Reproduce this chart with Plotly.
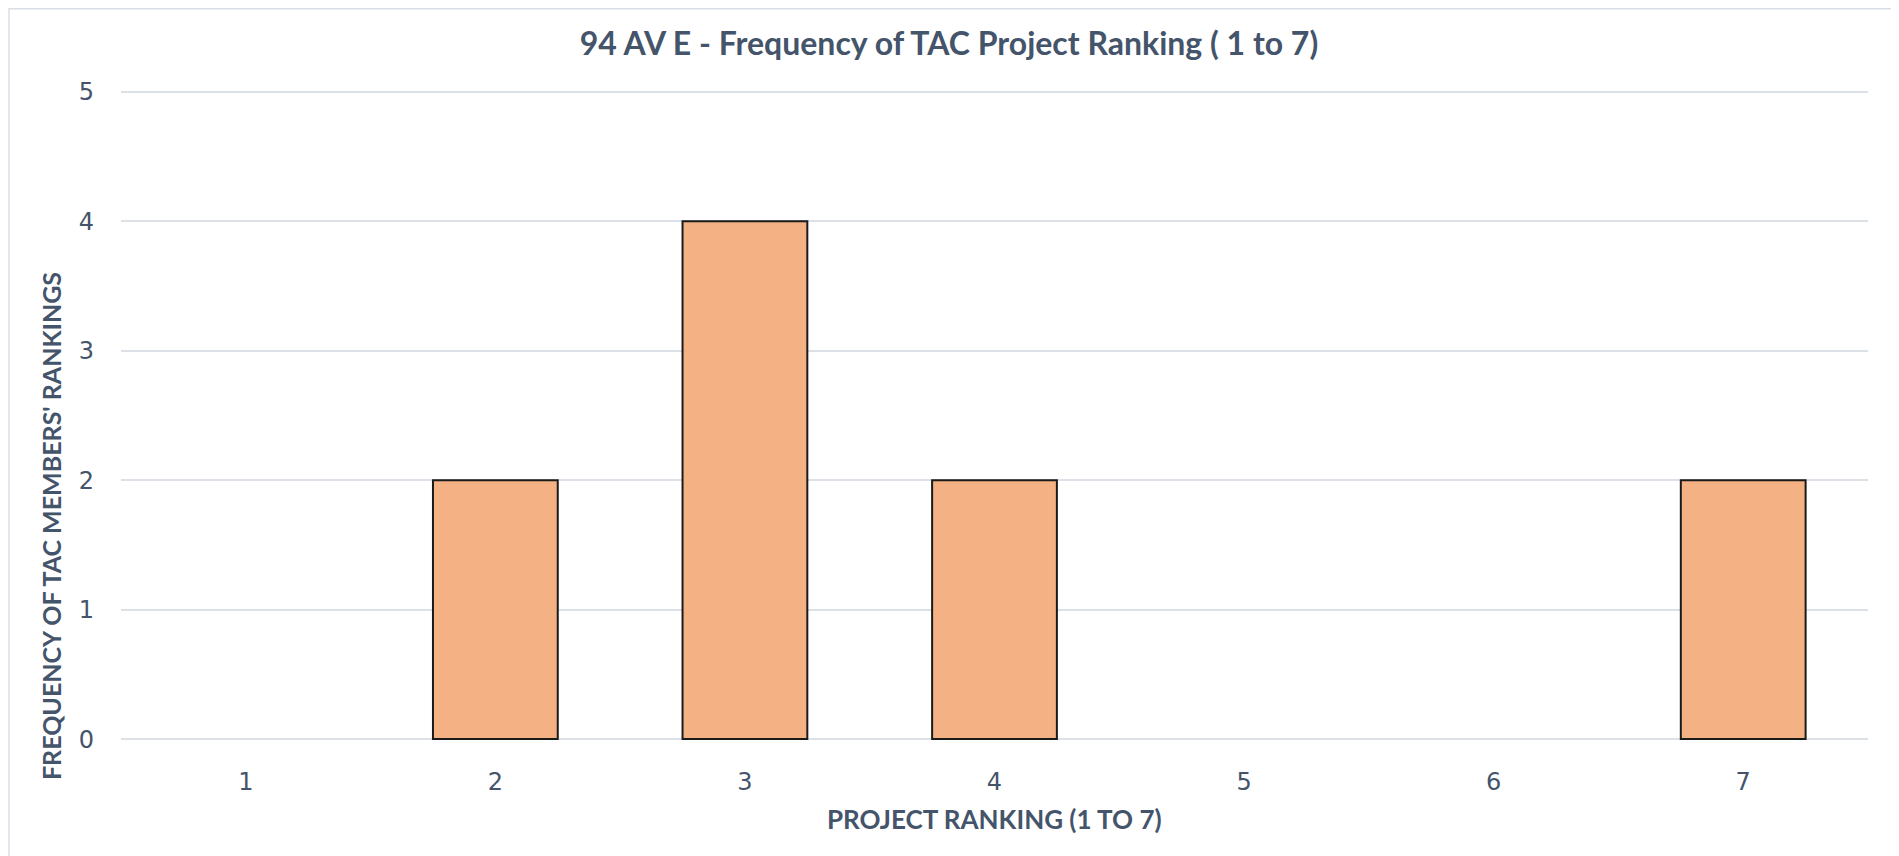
import plotly.graph_objects as go

# data
rankings = ['1', '2', '3', '4', '5', '6', '7']
frequency = [0, 2, 4, 2, 0, 0, 2]
y_ticks = [0, 1, 2, 3, 4, 5]

title_text = '94 AV E - Frequency of TAC Project Ranking ( 1 to 7)'
x_title = 'PROJECT RANKING (1 TO 7)'
y_title = "FREQUENCY OF TAC MEMBERS' RANKINGS"

text_color = '#44546A'
grid_color = '#DCE1E8'
label_font = 'Lato, sans-serif'
tick_font = 'DejaVu Sans, sans-serif'

# plot area in figure pixels (the page body adds an 8px offset)
W, H = 1899, 856
left, right, y5, y0 = 113, 1860, 84, 731
# small padding on the value range so the 0 and 5 gridlines get drawn
pad = 0.03
unit = (y0 - y5) / 5
top, bottom = y5 - pad * unit, y0 + pad * unit
pw, ph = right - left, bottom - top


def px(x):
    return (x - left) / pw


def py(y):
    return (bottom - y) / ph


# empty categories get no outline
outline = [2 if v > 0 else 0 for v in frequency]

fig = go.Figure()

fig.add_trace(go.Bar(
    x=rankings,
    y=frequency,
    marker=dict(color='#F4B183', line=dict(color='#1A1A1A', width=outline)),
    hoverinfo='x+y'
))

fig.update_layout(
    width=W,
    height=H,
    margin=dict(l=left, r=W - right, t=top, b=H - bottom),
    paper_bgcolor='white',
    plot_bgcolor='white',
    showlegend=False,
    bargap=0.5,
    title=dict(
        text='<b>' + title_text + '</b>',
        x=941 / W, xref='container', xanchor='center',
        y=1 - 36 / H, yref='container', yanchor='middle',
        font=dict(family=label_font, size=32, color=text_color)
    ),
    xaxis=dict(
        type='category',
        showgrid=False,
        showline=False,
        ticks='',
        ticklabelstandoff=22,
        tickfont=dict(family=tick_font, size=24, color=text_color)
    ),
    yaxis=dict(
        range=[-pad, 5 + pad],
        tickvals=y_ticks,
        showgrid=True,
        gridcolor=grid_color,
        gridwidth=1.5,
        zeroline=False,
        showline=False,
        ticks='',
        ticklabelstandoff=26,
        tickfont=dict(family=tick_font, size=24, color=text_color)
    ),
    annotations=[
        dict(
            text='<b>' + x_title + '</b>',
            xref='paper', yref='paper', x=0.5, y=py(811),
            xanchor='center', yanchor='middle', showarrow=False,
            font=dict(family=label_font, size=26, color=text_color)
        ),
        dict(
            text='<b>' + y_title + '</b>',
            xref='paper', yref='paper', x=px(43), y=py(518),
            xanchor='center', yanchor='middle', showarrow=False, textangle=-90,
            font=dict(family=label_font, size=25, color=text_color)
        )
    ],
    shapes=[
        dict(
            type='rect', xref='paper', yref='paper',
            x0=px(1), x1=px(1884), y0=py(900), y1=py(1),
            line=dict(color='#D9DEE6', width=1.5),
            layer='below'
        )
    ]
)

fig.write_html('out.html')
